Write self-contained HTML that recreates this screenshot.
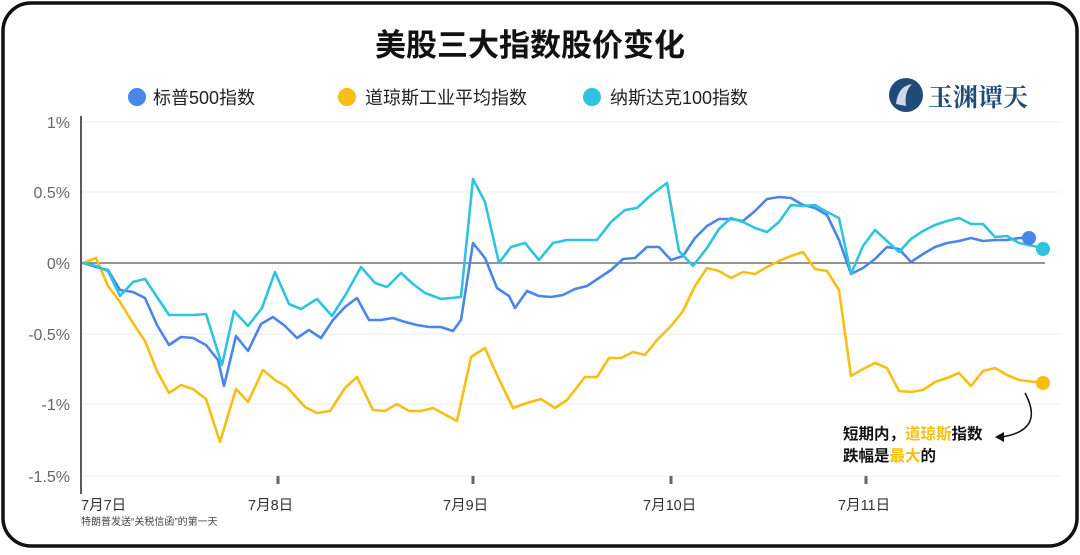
<!DOCTYPE html>
<html><head><meta charset="utf-8"><style>
body{margin:0;width:1080px;height:550px;background:#fff;overflow:hidden;font-family:"Liberation Sans","Noto Sans CJK SC",sans-serif}
</style></head><body>
<svg width="1080" height="550" viewBox="0 0 1080 550" xmlns="http://www.w3.org/2000/svg" font-family="Liberation Sans, Noto Sans CJK SC, sans-serif">
<rect x="3" y="3" width="1074" height="543" rx="28" fill="#fff" stroke="#111" stroke-width="3.5"/>
<text x="530" y="56" text-anchor="middle" font-size="31" font-weight="bold" fill="#111">美股三大指数股价变化</text>
<circle cx="137" cy="97" r="9" fill="#4a85ea"/><text x="153" y="104" font-size="18" fill="#222">标普500指数</text>
<circle cx="347" cy="97" r="9" fill="#f7be14"/><text x="365" y="104" font-size="18" fill="#222">道琼斯工业平均指数</text>
<circle cx="592" cy="97" r="9" fill="#2ec4df"/><text x="610" y="104" font-size="18" fill="#222">纳斯达克100指数</text>
<circle cx="906" cy="95" r="17" fill="#1f4a7a"/><path d="M896 104 Q898 86 912 84 Q904 92 906 106Z" fill="#cfd8e4"/>
<text x="928" y="106" font-size="25" font-family="Noto Serif CJK SC, serif" font-weight="bold" fill="#1f4a7a">玉渊谭天</text>
<g stroke="#eee" stroke-width="1"><line x1="82" y1="122" x2="1060" y2="122"/><line x1="82" y1="192" x2="1060" y2="192"/><line x1="82" y1="334" x2="1060" y2="334"/><line x1="82" y1="404" x2="1060" y2="404"/><line x1="82" y1="476" x2="1060" y2="476"/></g>
<line x1="82" y1="263" x2="1045" y2="263" stroke="#555" stroke-width="1.2"/>
<line x1="81" y1="116" x2="81" y2="494" stroke="#222" stroke-width="1.5"/>
<g stroke="#666" stroke-width="3"><line x1="278" y1="476" x2="278" y2="484"/><line x1="473" y1="476" x2="473" y2="484"/><line x1="671" y1="476" x2="671" y2="484"/><line x1="866" y1="476" x2="866" y2="484"/></g>
<g font-size="16" fill="#666" text-anchor="end"><text x="70" y="128">1%</text><text x="70" y="198">0.5%</text><text x="70" y="269">0%</text><text x="70" y="340">-0.5%</text><text x="70" y="410">-1%</text><text x="70" y="482">-1.5%</text></g>
<g font-size="14.5" fill="#333"><text x="81" y="510">7月7日</text><text x="248" y="510">7月8日</text><text x="443" y="510">7月9日</text><text x="643" y="510">7月10日</text><text x="838" y="510">7月11日</text></g>
<text x="81" y="525" font-size="10" fill="#444">特朗普发送“关税信函”的第一天</text>
<g fill="none" stroke-width="2.6" stroke-linejoin="round">
<polyline stroke="#f7be14" points="83,263 96,258 108,286 120,302 133,323 145,341 157,371 169,393 181,385 193,389 206,399 220,442 236,389 248,402 263,370 275,380 287,387 305,407 317,413 330,411 345,388 357,377 373,410 385,411 397,404 409,411 421,411 433,408 457,421 471,357 485,348 497,375 513,408 527,403 541,399 555,408 567,400 585,377 597,377 609,358 621,358 633,352 645,355 657,340 671,326 683,311 695,286 707,268 719,271 731,278 743,272 755,274 767,267 779,261 791,256 803,252 815,269 827,271 839,290 851,376 863,369 875,363 887,368 899,391 911,392 923,390 935,382 947,378 959,373 971,386 983,371 995,368 1007,375 1019,380 1043,383"/>
<polyline stroke="#4a85ea" points="83,263 96,267 108,270 120,290 133,292 145,298 157,325 169,345 181,337 193,338 206,345 218,360 224,386 236,336 248,351 261,324 273,317 285,326 297,338 309,330 321,338 333,320 345,307 357,298 369,320 381,320 393,318 405,322 417,325 429,327 441,327 453,331 461,320 473,243 485,258 497,288 509,296 515,308 527,291 539,296 551,297 563,295 575,289 587,286 599,278 611,270 623,259 635,258 647,247 659,247 671,260 683,256 695,238 707,226 719,219 731,219 743,221 755,211 767,199 779,197 791,198 803,205 815,208 827,215 839,240 851,274 863,268 875,259 887,247 899,249 911,262 923,254 935,247 947,243 959,241 971,238 983,241 995,240 1007,240 1019,238 1029,238"/>
<polyline stroke="#2ec4df" points="83,263 96,266 108,271 120,296 133,282 145,279 157,297 169,315 181,315 193,315 206,314 222,365 234,311 248,326 262,308 275,272 289,304 301,309 317,299 332,316 346,294 361,267 375,283 387,287 401,273 413,284 425,293 441,299 461,297 473,179 485,202 499,263 511,247 525,243 539,260 553,243 567,240 581,240 597,240 611,222 625,210 637,208 651,195 667,183 679,251 693,266 707,248 719,229 731,218 743,222 755,228 767,232 779,222 791,205 803,206 815,205 827,212 839,218 851,274 863,246 875,230 887,241 899,252 911,239 923,231 935,225 947,221 959,218 971,224 983,224 995,237 1007,236 1019,243 1043,248"/>
</g>
<circle cx="1029" cy="238" r="7" fill="#4a85ea"/>
<circle cx="1043" cy="249" r="7" fill="#2ec4df"/>
<circle cx="1043" cy="383" r="7" fill="#f7be14"/>
<g font-size="15.5" font-weight="bold" fill="#111"><text x="843" y="439">短期内，<tspan fill="#f7be14">道琼斯</tspan>指数</text><text x="843" y="461">跌幅是<tspan fill="#f7be14">最大</tspan>的</text></g>
<path d="M1025 393 Q1045 430 1002 437" fill="none" stroke="#111" stroke-width="1.5"/>
<path d="M995 437 L1004 432 L1004 442Z" fill="#111"/>
</svg>
</body></html>
